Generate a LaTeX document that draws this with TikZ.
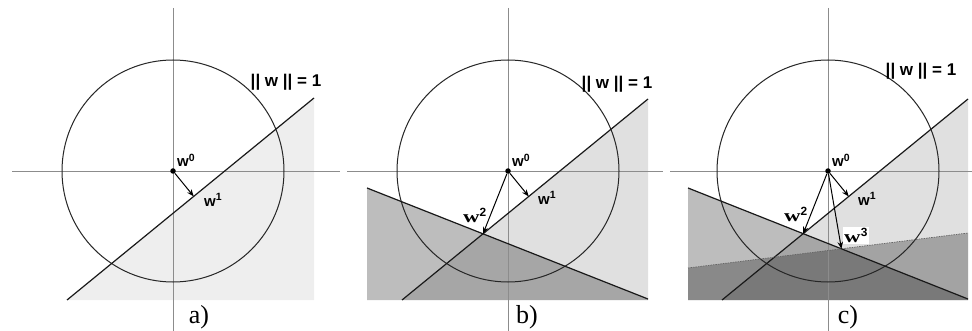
\documentclass[tikz,border=0pt]{standalone}
\usepackage{fontspec}
\setmainfont{Liberation Serif}
\setsansfont{Liberation Sans}
\usetikzlibrary{arrows.meta,calc}
\tikzset{
  axisline/.style={draw=black!45, line width=0.9pt},
  circ/.style={draw=black!85, line width=1pt},
  bound/.style={draw=black!90, line width=1.2pt},
  boundthree/.style={draw=black!60, line width=0.7pt, dash pattern=on 1.5pt off 1pt},
  vec/.style={draw=black, line width=1pt, -{Stealth[length=7pt,width=5.5pt]}},
  dotc/.style={fill=black, circle, inner sep=0pt, minimum size=5.5pt},
  lab/.style={font=\sffamily\bfseries\fontsize{15}{15}\selectfont, inner sep=0pt},
  slab/.style={font=\bfseries\fontsize{17}{17}\selectfont, inner sep=0pt},
  normlab/.style={font=\sffamily\bfseries\fontsize{17}{17}\selectfont, inner sep=0pt},
  plab/.style={font=\fontsize{26}{26}\selectfont, inner sep=0pt},
  shadeA/.style={fill=black, fill opacity=0.065},
  shadeone/.style={fill=black, fill opacity=0.12},
  shadetwo/.style={fill=black, fill opacity=0.26},
  shadethree/.style={fill=black, fill opacity=0.27},
}
\newcommand{\wsub}[1]{w\textsuperscript{#1}}
\newcommand{\wser}[1]{\scalebox{1.35}[1]{w}\textsuperscript{\sffamily #1}}
\begin{document}
\begin{tikzpicture}[x=1pt,y=-1pt]
\useasboundingbox (0,0) rectangle (972,331);
\fill[white] (0,0) rectangle (972,331);

% ---------------- panel a ----------------
\begin{scope}[shift={(173,171)}]
  \coordinate (a-s) at (-106,129);
  \coordinate (a-e) at (141,-73);
  \fill[shadeA] (a-s) -- (a-e) -- (141,129) -- cycle;
  \draw[axisline] (-161,0) -- (167,0);
  \draw[axisline] (0,-163) -- (0,160);
  \draw[circ] (0,0) circle[radius=111];
  \draw[bound] (a-s) -- (a-e);
  \node[dotc] (a-w0) at (0,0) {};
  \coordinate (a-w1) at ($(a-s)!(a-w0)!(a-e)$);
  \draw[vec] (a-w0) -- (a-w1);
  \node[lab, anchor=south west] (a-l0) at (4,-4) {\wsub{0}};
  \node[lab, anchor=west] (a-l1) at (31,29) {\wsub{1}};
  \node[normlab] (a-norm) at (113,-89) {|| w || = 1};
  \node[plab] (a-cap) at (26,146) {a)};
\end{scope}

% ---------------- panel b ----------------
\begin{scope}[shift={(508,171)}]
  \coordinate (b-s) at (-106,129);
  \coordinate (b-e) at (140,-72);
  \coordinate (b-s2) at (-141,17);
  \coordinate (b-e2) at (140,128);
  \fill[shadeone] (b-s) -- (b-e) -- (140,129) -- cycle;
  \fill[shadetwo] (b-s2) -- (b-e2) -- (140,129) -- (-141,129) -- cycle;
  \draw[axisline] (-161,0) -- (155,0);
  \draw[axisline] (0,-163) -- (0,160);
  \draw[circ] (0,0) circle[radius=111];
  \draw[bound] (b-s) -- (b-e);
  \draw[bound] (b-s2) -- (b-e2);
  \node[dotc] (b-w0) at (0,0) {};
  \coordinate (b-w1) at ($(b-s)!(b-w0)!(b-e)$);
  \coordinate (b-w2) at (intersection of b-s--b-e and b-s2--b-e2);
  \draw[vec] (b-w0) -- (b-w1);
  \draw[vec] (b-w0) -- (b-w2);
  \node[lab, anchor=south west] (b-l0) at (4,-4) {\wsub{0}};
  \node[lab, anchor=west] (b-l1) at (30,27) {\wsub{1}};
  \node[slab, anchor=south east] (b-l2) at (-21,52) {\wser{2}};
  \node[normlab] (b-norm) at (109,-87) {|| w || = 1};
  \node[plab] (b-cap) at (19,146) {b)};
\end{scope}

% ---------------- panel c ----------------
\begin{scope}[shift={(828,171)}]
  \coordinate (c-s) at (-106,129);
  \coordinate (c-e) at (140,-72);
  \coordinate (c-s2) at (-140,17);
  \coordinate (c-e2) at (140,128);
  \coordinate (c-s3) at (-140,97);
  \coordinate (c-e3) at (140,62);
  \fill[shadeone] (c-s) -- (c-e) -- (140,129) -- cycle;
  \fill[shadetwo] (c-s2) -- (c-e2) -- (140,129) -- (-140,129) -- cycle;
  \fill[shadethree] (c-s3) -- (c-e3) -- (140,129) -- (-140,129) -- cycle;
  \draw[axisline] (-158,0) -- (144,0);
  \draw[axisline] (0,-163) -- (0,160);
  \draw[circ] (0,0) circle[radius=111];
  \draw[bound] (c-s) -- (c-e);
  \draw[bound] (c-s2) -- (c-e2);
  \draw[boundthree] (c-s3) -- (c-e3);
  \node[dotc] (c-w0) at (0,0) {};
  \coordinate (c-w1) at ($(c-s)!(c-w0)!(c-e)$);
  \coordinate (c-w2) at (intersection of c-s--c-e and c-s2--c-e2);
  \coordinate (c-w3) at (intersection of c-s2--c-e2 and c-s3--c-e3);
  \draw[vec] (c-w0) -- (c-w1);
  \draw[vec] (c-w0) -- (c-w2);
  \draw[vec] (c-w0) -- (c-w3);
  \node[lab, anchor=south west] (c-l0) at (4,-4) {\wsub{0}};
  \node[lab, anchor=west] (c-l1) at (30,28) {\wsub{1}};
  \node[slab, anchor=south east] (c-l2) at (-20,51) {\wser{2}};
  \node[slab, anchor=south west, fill=white, inner sep=1pt] (c-l3) at (15,73) {\wser{3}};
  \node[normlab] (c-norm) at (93,-100) {|| w || = 1};
  \node[plab] (c-cap) at (20,146) {c)};
\end{scope}
\end{tikzpicture}
\end{document}
